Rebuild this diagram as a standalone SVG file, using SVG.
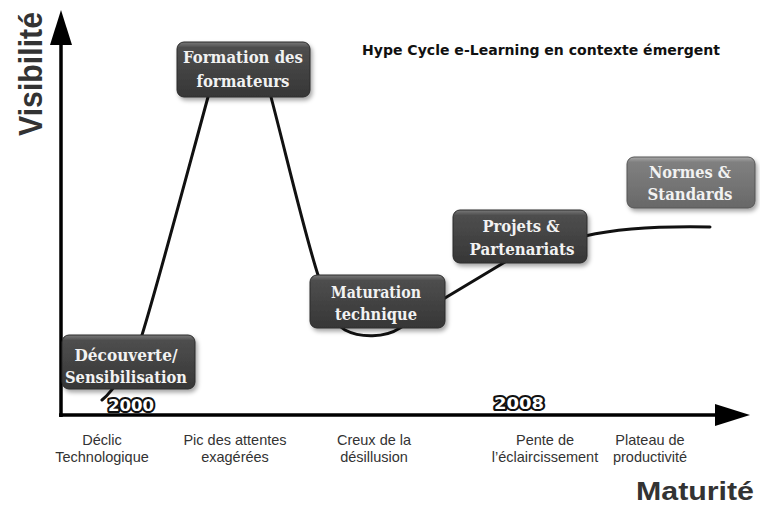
<svg xmlns="http://www.w3.org/2000/svg" width="760" height="507" viewBox="0 0 760 507">
<style>
.box{fill:url(#gDark);stroke:#2a2a2a;stroke-width:1;filter:url(#sh)}
.boxL{fill:url(#gLight);stroke:#555;stroke-width:1;filter:url(#sh)}
.nt{font-family:"DejaVu Serif","Liberation Serif",serif;font-weight:bold;font-size:17px;fill:#f2f2f2;text-anchor:middle}
.ph{font-family:"Liberation Sans",Arial,sans-serif;font-size:14.5px;fill:#333;text-anchor:middle}
.yr{font-family:"DejaVu Sans","Liberation Sans",sans-serif;font-weight:bold;font-size:16px;fill:#fff;stroke:#111;stroke-width:4;paint-order:stroke;stroke-linejoin:round;text-anchor:middle}
.curve{fill:none;stroke:#111;stroke-width:3;stroke-linecap:round}
.axis{stroke:#000;stroke-width:3.5;fill:none}
</style>
<defs>
<linearGradient id="gDark" x1="0" y1="0" x2="0" y2="1">
<stop offset="0" stop-color="#7a7a7a"/><stop offset="0.1" stop-color="#4e4e4e"/><stop offset="1" stop-color="#363636"/>
</linearGradient>
<linearGradient id="gLight" x1="0" y1="0" x2="0" y2="1">
<stop offset="0" stop-color="#aaaaaa"/><stop offset="0.1" stop-color="#808080"/><stop offset="1" stop-color="#686868"/>
</linearGradient>
<filter id="sh" x="-10%" y="-10%" width="125%" height="135%">
<feDropShadow dx="2" dy="3" stdDeviation="2" flood-color="#000" flood-opacity="0.35"/>
</filter>
</defs>
<rect width="760" height="507" fill="#fff"/>

<g id="axes">
<line class="axis" x1="61" y1="417" x2="61" y2="42"/>
<polygon points="61,10 50,45 72,45" fill="#000"/>
<line class="axis" x1="59" y1="415" x2="718" y2="415"/>
<polygon points="750,415 715,404 715,426" fill="#000"/>
<text x="0" y="0" transform="translate(42,136) rotate(-90)" font-family="Liberation Sans,Arial,sans-serif" font-weight="bold" font-size="33" fill="#333" textLength="124" lengthAdjust="spacingAndGlyphs">Visibilité</text>
<text x="636" y="500" font-family="Liberation Sans,Arial,sans-serif" font-weight="bold" font-size="25" fill="#333" textLength="118" lengthAdjust="spacingAndGlyphs">Maturité</text>
</g>

<text id="title" x="362" y="55" font-family="DejaVu Sans,Liberation Sans,sans-serif" font-weight="bold" font-size="14" fill="#111" textLength="358" lengthAdjust="spacingAndGlyphs">Hype Cycle e-Learning en contexte émergent</text>

<g id="connectors">
<path class="curve" d="M102,400 C112,392 132,365 142,335 C156,290 180,200 208,97 C218,62 262,62 271,97 C285,150 305,235 318,275 C325,300 332,322 345,330 C360,338 385,338 400,328 C420,316 430,308 445,298 L505,262"/>
<path class="curve" d="M585,236 C620,228 660,226 710,227"/>
</g>

<g id="phases">
<text class="ph" x="102" y="445">Déclic</text>
<text class="ph" x="102" y="462">Technologique</text>
<text class="ph" x="235" y="445">Pic des attentes</text>
<text class="ph" x="235" y="462">exagérées</text>
<text class="ph" x="374" y="445">Creux de la</text>
<text class="ph" x="374" y="462">désillusion</text>
<text class="ph" x="545" y="445">Pente de</text>
<text class="ph" x="545" y="462">l’éclaircissement</text>
<text class="ph" x="650" y="445">Plateau de</text>
<text class="ph" x="650" y="462">productivité</text>
</g>

<g id="years">
<text class="yr" x="131" y="411" textLength="46" lengthAdjust="spacingAndGlyphs">2000</text>
<text class="yr" x="519" y="409" textLength="50" lengthAdjust="spacingAndGlyphs">2008</text>
</g>

<g id="node-formation">
<rect class="box" x="177" y="42" width="133" height="55" rx="7"/>
<text class="nt" x="243" y="63" textLength="120" lengthAdjust="spacingAndGlyphs">Formation des</text>
<text class="nt" x="243" y="87" textLength="93" lengthAdjust="spacingAndGlyphs">formateurs</text>
</g>
<g id="node-decouverte">
<rect class="box" x="62" y="335" width="133" height="54" rx="7"/>
<text class="nt" x="126" y="361" textLength="103" lengthAdjust="spacingAndGlyphs">Découverte/</text>
<text class="nt" x="126" y="383" textLength="122" lengthAdjust="spacingAndGlyphs">Sensibilisation</text>
</g>
<g id="node-maturation">
<rect class="box" x="310" y="275" width="135" height="53" rx="7"/>
<text class="nt" x="376" y="298" textLength="90" lengthAdjust="spacingAndGlyphs">Maturation</text>
<text class="nt" x="376" y="320" textLength="82" lengthAdjust="spacingAndGlyphs">technique</text>
</g>
<g id="node-projets">
<rect class="box" x="453" y="210" width="134" height="53" rx="7"/>
<text class="nt" x="521" y="232" textLength="77" lengthAdjust="spacingAndGlyphs">Projets &amp;</text>
<text class="nt" x="522" y="255" textLength="105" lengthAdjust="spacingAndGlyphs">Partenariats</text>
</g>
<g id="node-normes">
<rect class="boxL" x="627" y="157" width="128" height="51" rx="7"/>
<text class="nt" x="690" y="178" textLength="82" lengthAdjust="spacingAndGlyphs">Normes &amp;</text>
<text class="nt" x="690" y="200" textLength="85" lengthAdjust="spacingAndGlyphs">Standards</text>
</g>
</svg>
